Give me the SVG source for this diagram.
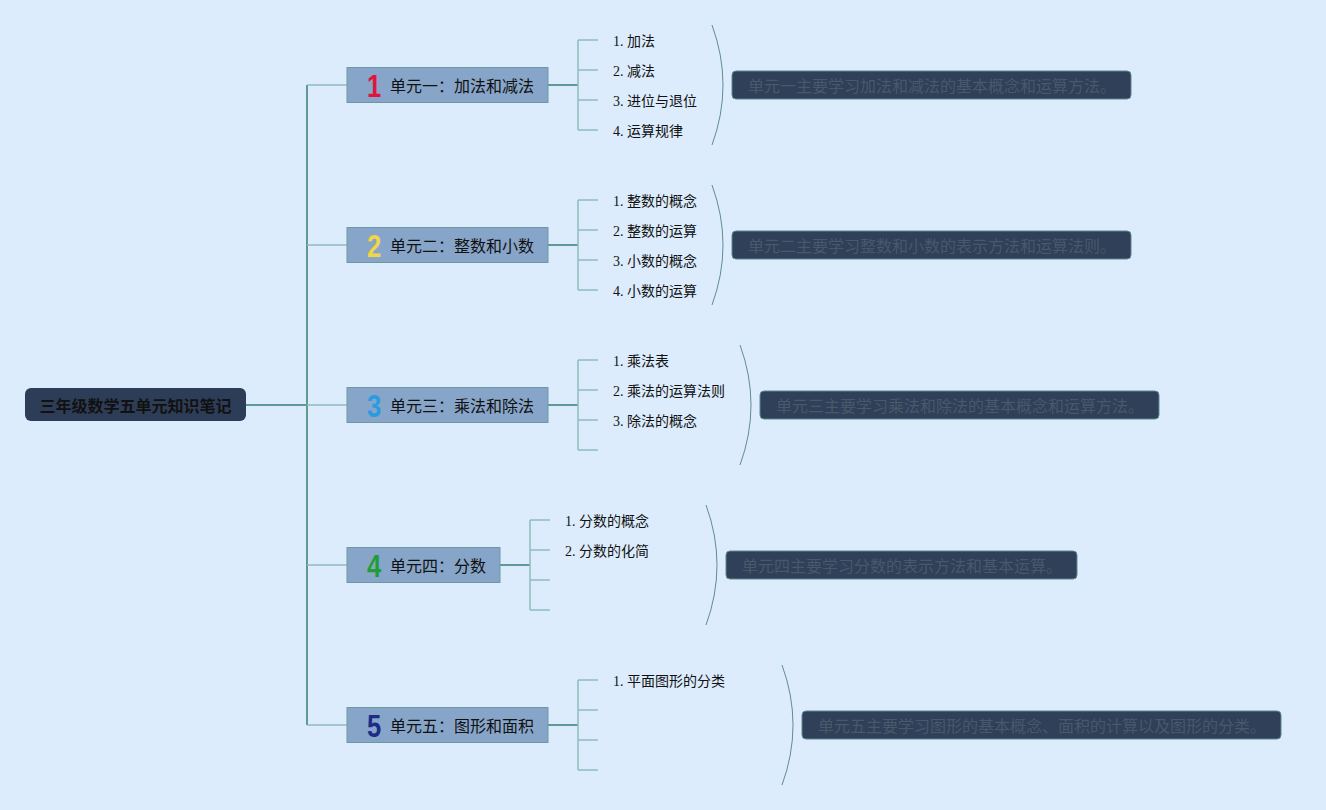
<svg xmlns="http://www.w3.org/2000/svg" width="1326" height="810" viewBox="0 0 1326 810">
<defs>
<style>
.bg{fill:#dcecfc}
.root rect{fill:#2e3d57}
.root text{font-family:"Noto Sans CJK SC",sans-serif;font-size:16px;font-weight:bold;fill:#111;text-anchor:middle;dominant-baseline:central}
.unit rect{fill:#87a5c9;stroke:#6a9aa0;stroke-width:1}
.unit .lbl{font-family:"Noto Sans CJK SC",sans-serif;font-size:16px;fill:#111;dominant-baseline:central}
.unit .num{font-family:"Liberation Sans",sans-serif;font-size:32px;font-weight:bold;text-anchor:middle;dominant-baseline:central}
.item{font-family:"Liberation Serif","Noto Sans CJK SC",serif;font-size:14px;fill:#111;dominant-baseline:central}
.sum rect{fill:#2f4058;stroke:#5c8a92;stroke-width:1}
.sum text{font-family:"Noto Sans CJK SC",sans-serif;font-size:16px;fill:#4a586b;dominant-baseline:central}
.main{fill:none;stroke:#5e9a92;stroke-width:2}
.light{fill:none;stroke:#8fbcbc;stroke-width:1.5}
.arc{fill:none;stroke:#5e8e94;stroke-width:1}
</style>
</defs>
<rect class="bg" x="0" y="0" width="1326" height="810"/>
<g id="connectors">
<path class="main" d="M246,405 H307 M307,85 V725"/>
<path class="light" d="M307,85 H347 M307,245 H347 M307,405 H347 M307,565 H347 M307,725 H347"/>
<path class="main" d="M548,85 H578 M548,245 H578 M548,405 H578 M500,565 H530 M548,725 H578"/>
<path class="light" d="M578,40 V130 M578,40 H598 M578,70 H598 M578,100 H598 M578,130 H598"/>
<path class="light" d="M578,200 V290 M578,200 H598 M578,230 H598 M578,260 H598 M578,290 H598"/>
<path class="light" d="M578,360 V450 M578,360 H598 M578,390 H598 M578,420 H598 M578,450 H598"/>
<path class="light" d="M530,520 V610 M530,520 H550 M530,550 H550 M530,580 H550 M530,610 H550"/>
<path class="light" d="M578,680 V770 M578,680 H598 M578,710 H598 M578,740 H598 M578,770 H598"/>
<path class="arc" d="M712,25 Q734,85 712,145"/>
<path class="arc" d="M712,185 Q734,245 712,305"/>
<path class="arc" d="M740,345 Q762,405 740,465"/>
<path class="arc" d="M706,505 Q728,565 706,625"/>
<path class="arc" d="M782,665 Q804,725 782,785"/>
</g>
<g id="root" class="root">
<rect x="25" y="388" width="221" height="33" rx="6"/>
<text x="135.5" y="405">三年级数学五单元知识笔记</text>
</g>
<g id="unit1" class="unit">
<rect x="347" y="67.5" width="201" height="35"/>
<text class="num" transform="translate(374,86) scale(0.8,1)" x="0" y="0" fill="#e0143c">1</text>
<text class="lbl" x="390" y="85">单元一：加法和减法</text>
</g>
<g id="unit2" class="unit">
<rect x="347" y="227.5" width="201" height="35"/>
<text class="num" transform="translate(374,246) scale(0.8,1)" x="0" y="0" fill="#f3d646">2</text>
<text class="lbl" x="390" y="245">单元二：整数和小数</text>
</g>
<g id="unit3" class="unit">
<rect x="347" y="387.5" width="201" height="35"/>
<text class="num" transform="translate(374,406) scale(0.8,1)" x="0" y="0" fill="#2a9be0">3</text>
<text class="lbl" x="390" y="405">单元三：乘法和除法</text>
</g>
<g id="unit4" class="unit">
<rect x="347" y="547.5" width="153" height="35"/>
<text class="num" transform="translate(374,566) scale(0.8,1)" x="0" y="0" fill="#1f9e38">4</text>
<text class="lbl" x="390" y="565">单元四：分数</text>
</g>
<g id="unit5" class="unit">
<rect x="347" y="707.5" width="201" height="35"/>
<text class="num" transform="translate(374,726) scale(0.8,1)" x="0" y="0" fill="#1b2d86">5</text>
<text class="lbl" x="390" y="725">单元五：图形和面积</text>
</g>
<g id="items1">
<text class="item" x="613" y="41">1. 加法</text>
<text class="item" x="613" y="71">2. 减法</text>
<text class="item" x="613" y="101">3. 进位与退位</text>
<text class="item" x="613" y="131">4. 运算规律</text>
</g>
<g id="items2">
<text class="item" x="613" y="201">1. 整数的概念</text>
<text class="item" x="613" y="231">2. 整数的运算</text>
<text class="item" x="613" y="261">3. 小数的概念</text>
<text class="item" x="613" y="291">4. 小数的运算</text>
</g>
<g id="items3">
<text class="item" x="613" y="361">1. 乘法表</text>
<text class="item" x="613" y="391">2. 乘法的运算法则</text>
<text class="item" x="613" y="421">3. 除法的概念</text>
</g>
<g id="items4">
<text class="item" x="565" y="521">1. 分数的概念</text>
<text class="item" x="565" y="551">2. 分数的化简</text>
</g>
<g id="items5">
<text class="item" x="613" y="681">1. 平面图形的分类</text>
</g>
<g id="summary1" class="sum">
<rect x="732" y="71" width="399" height="28" rx="4"/>
<text x="748" y="85">单元一主要学习加法和减法的基本概念和运算方法。</text>
</g>
<g id="summary2" class="sum">
<rect x="732" y="231" width="399" height="28" rx="4"/>
<text x="748" y="245">单元二主要学习整数和小数的表示方法和运算法则。</text>
</g>
<g id="summary3" class="sum">
<rect x="760" y="391" width="399" height="28" rx="4"/>
<text x="776" y="405">单元三主要学习乘法和除法的基本概念和运算方法。</text>
</g>
<g id="summary4" class="sum">
<rect x="726" y="551" width="351" height="28" rx="4"/>
<text x="742" y="565">单元四主要学习分数的表示方法和基本运算。</text>
</g>
<g id="summary5" class="sum">
<rect x="802" y="711" width="479" height="28" rx="4"/>
<text x="818" y="725">单元五主要学习图形的基本概念、面积的计算以及图形的分类。</text>
</g>
</svg>
